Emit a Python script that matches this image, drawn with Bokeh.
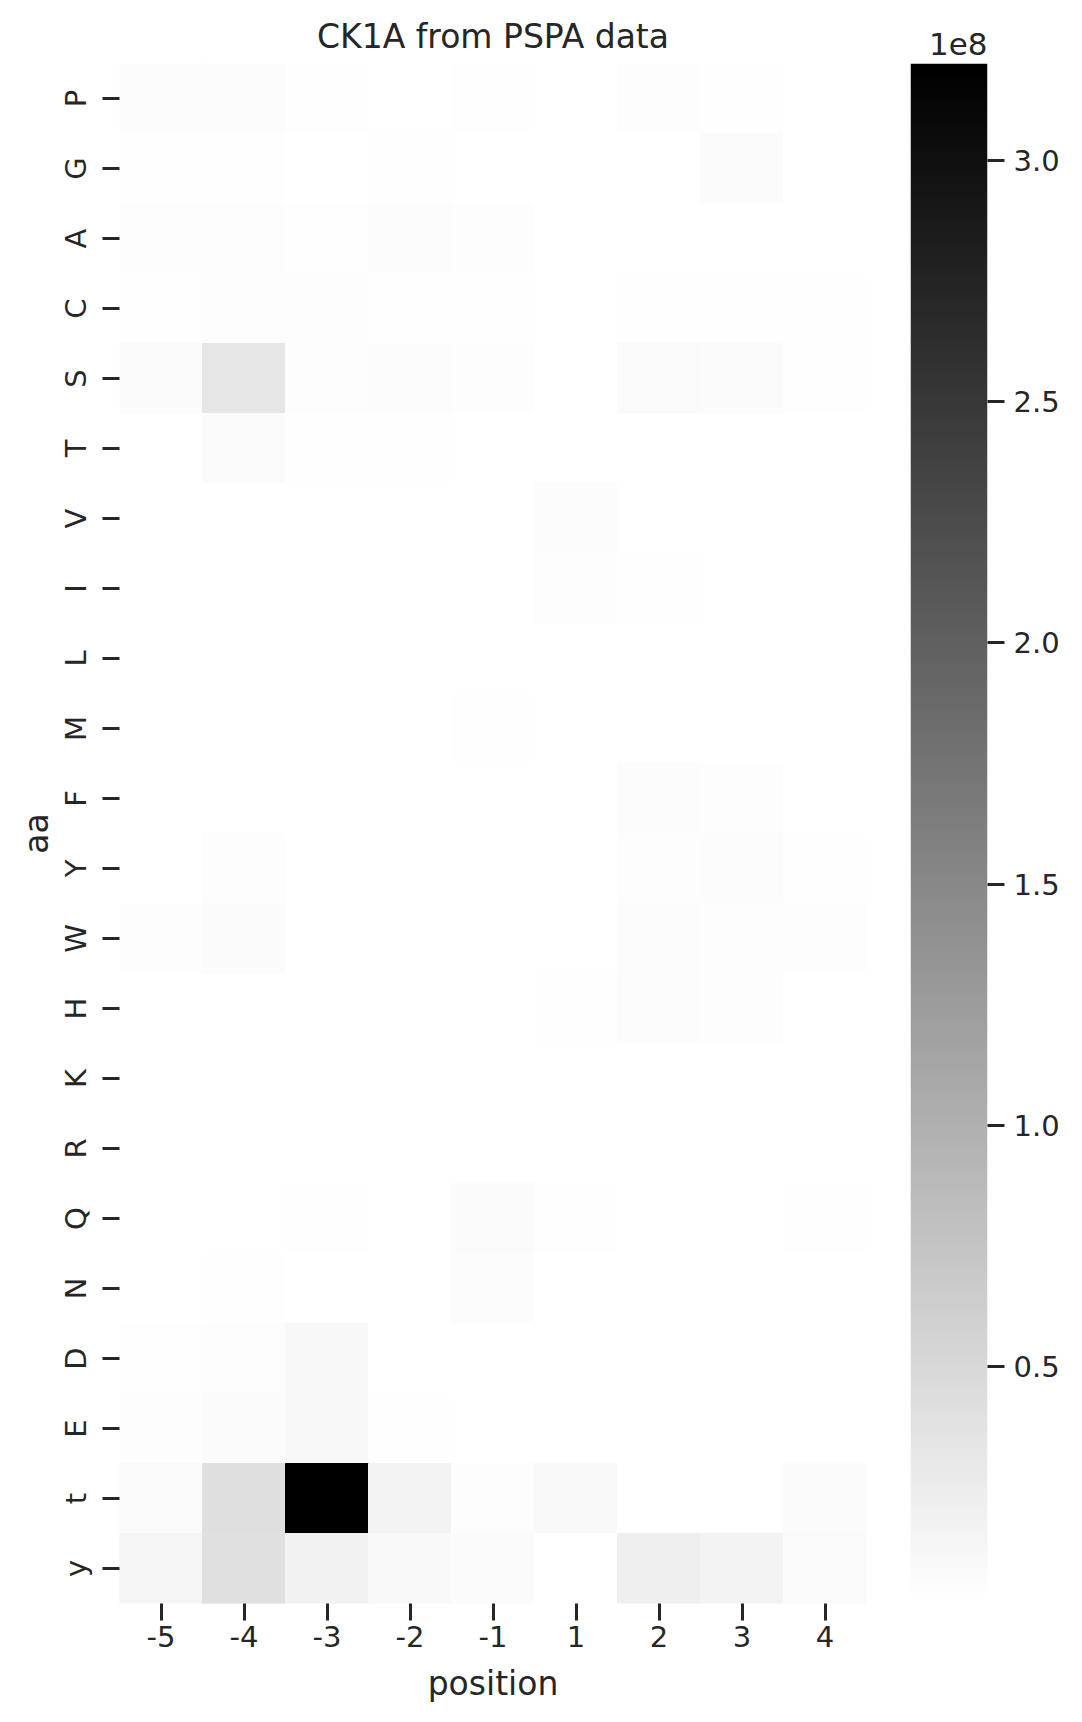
import numpy as np
from bokeh.plotting import figure
from bokeh.models import (ColumnDataSource, LinearColorMapper, FactorRange, Range1d,
                          FixedTicker, CustomJSTickFormatter)
from bokeh.layouts import row
from bokeh.palettes import Greys256
from bokeh.embed import file_html
from bokeh.resources import INLINE

# ---------------- data ----------------
positions = ["-5", "-4", "-3", "-2", "-1", "1", "2", "3", "4"]
amino_acids = ["P", "G", "A", "C", "S", "T", "V", "I", "L", "M", "F",
               "Y", "W", "H", "K", "R", "Q", "N", "D", "E", "t", "y"]

# values per amino acid row (in millions), columns follow `positions`
row_P = [4.8, 4.9, 2.3, 2.2, 2.4, 1.6, 4.7, 2.3, 1.5]
row_G = [2.3, 3.4, 2.2, 2.3, 2.2, 1.2, 1.1, 6.1, 2.0]
row_A = [3.5, 3.6, 2.3, 4.9, 3.6, 2.1, 2.2, 2.0, 2.1]
row_C = [3.4, 4.6, 3.5, 3.3, 2.4, 2.1, 3.3, 3.4, 3.2]
row_S = [6.1, 32.3, 4.7, 4.8, 4.6, 2.2, 8.4, 6.0, 3.3]
row_T = [2.1, 7.2, 2.3, 3.4, 2.2, 2.0, 2.2, 2.1, 1.9]
row_V = [1.3, 1.2, 1.4, 2.2, 1.3, 4.8, 1.7, 1.2, 1.1]
row_I = [1.2, 1.3, 1.2, 1.4, 1.3, 3.5, 3.4, 1.3, 1.2]
row_L = [1.4, 1.2, 1.3, 1.2, 1.5, 1.6, 1.3, 1.2, 1.1]
row_M = [1.1, 1.2, 1.3, 1.2, 2.3, 1.4, 1.2, 1.3, 1.2]
row_F = [1.3, 1.2, 1.4, 1.3, 1.2, 1.4, 4.8, 3.6, 1.6]
row_Y = [1.6, 3.5, 2.2, 1.3, 2.1, 1.2, 4.7, 4.9, 3.4]
row_W = [3.5, 6.0, 1.6, 1.2, 1.3, 1.4, 4.8, 4.2, 4.0]
row_H = [1.2, 1.3, 1.2, 1.4, 1.3, 2.3, 4.9, 4.7, 2.2]
row_K = [1.5, 1.3, 1.4, 1.6, 1.5, 1.7, 1.3, 1.2, 1.4]
row_R = [1.2, 1.3, 1.1, 1.2, 1.3, 1.4, 1.2, 1.1, 1.0]
row_Q = [2.2, 2.1, 2.3, 2.2, 6.1, 2.3, 1.2, 1.7, 2.8]
row_N = [2.2, 2.3, 2.1, 2.2, 4.8, 1.6, 1.2, 1.3, 1.2]
row_D = [3.4, 4.7, 9.8, 1.3, 1.2, 1.3, 1.2, 1.6, 1.4]
row_E = [3.5, 6.1, 9.9, 3.4, 1.7, 1.6, 1.5, 1.6, 1.7]
row_t = [7.3, 41.0, 320.0, 16.0, 3.5, 8.5, 1.1, 1.6, 7.2]
row_y = [13.5, 39.8, 17.3, 8.5, 6.0, 1.0, 21.0, 16.0, 7.3]

UNIT = 1e6
colorbar_ticks = [0.5e8, 1.0e8, 1.5e8, 2.0e8, 2.5e8, 3.0e8]

rows = [row_P, row_G, row_A, row_C, row_S, row_T, row_V, row_I, row_L, row_M, row_F,
        row_Y, row_W, row_H, row_K, row_R, row_Q, row_N, row_D, row_E, row_t, row_y]

xs, ys, vals = [], [], []
for aa, r in zip(amino_acids, rows):
    for pos, v in zip(positions, r):
        xs.append(pos)
        ys.append(aa)
        vals.append(v * UNIT)
src = ColumnDataSource(dict(position=xs, aa=ys, value=vals))

vmin, vmax = min(vals), max(vals)
palette = list(reversed(Greys256))  # white -> black
mapper = LinearColorMapper(palette=palette, low=vmin, high=vmax)

FONT = "DejaVu Sans"
TXT = "#262626"
TICK_FS = "29px"
LABEL_FS = "33px"

# ---------------- heatmap ----------------
p = figure(x_range=FactorRange(factors=positions),
           y_range=FactorRange(factors=list(reversed(amino_acids))),
           frame_width=747, frame_height=1540,
           min_border_left=119, min_border_right=20,
           min_border_top=63, min_border_bottom=100,
           title="CK1A from PSPA data", x_axis_label="position", y_axis_label="aa",
           output_backend="svg", toolbar_location=None)
p.rect(x="position", y="aa", width=1, height=1, source=src,
       fill_color={"field": "value", "transform": mapper},
       line_color={"field": "value", "transform": mapper}, line_width=1)

p.title.text_font = FONT
p.title.text_font_size = LABEL_FS
p.title.text_font_style = "normal"
p.title.text_color = TXT
p.title.align = "center"
p.title.standoff = 16

for ax in (p.xaxis[0], p.yaxis[0]):
    ax.axis_line_color = None
    ax.major_tick_line_color = TXT
    ax.major_tick_line_width = 3
    ax.major_tick_out = 17
    ax.major_tick_in = 0
    ax.minor_tick_line_color = None
    ax.major_label_text_font = FONT
    ax.major_label_text_font_size = TICK_FS
    ax.major_label_text_color = TXT
    ax.axis_label_text_font = FONT
    ax.axis_label_text_font_size = LABEL_FS
    ax.axis_label_text_font_style = "normal"
    ax.axis_label_text_color = TXT

p.yaxis.major_label_orientation = "vertical"
p.xaxis.major_label_standoff = 5
p.yaxis.major_label_standoff = 10
p.xaxis.axis_label_standoff = 14
p.yaxis.axis_label_standoff = 0
p.xgrid.grid_line_color = None
p.ygrid.grid_line_color = None
p.outline_line_color = None

# ---------------- colorbar ----------------
cb = figure(x_range=Range1d(0, 1), y_range=Range1d(vmin, vmax),
            frame_width=77, frame_height=1540,
            min_border_left=24, min_border_right=84,
            min_border_top=63, min_border_bottom=100,
            x_axis_location=None, y_axis_location="right", title="1e8",
            output_backend="svg", toolbar_location=None)
gradient = np.linspace(vmin, vmax, 512).reshape(-1, 1)
cb.image(image=[gradient], x=0, y=vmin, dw=1, dh=vmax - vmin, color_mapper=mapper)
cb.title.text_font = FONT
cb.title.text_font_size = "31px"
cb.title.text_font_style = "normal"
cb.title.text_color = TXT
cb.title.align = "right"
cb.title.standoff = 17

cax = cb.yaxis[0]
cax.ticker = FixedTicker(ticks=colorbar_ticks)
cax.formatter = CustomJSTickFormatter(code="return (tick / 1e8).toFixed(1);")
cax.axis_line_color = None
cax.major_tick_line_color = TXT
cax.major_tick_line_width = 3
cax.major_tick_out = 17
cax.major_tick_in = 0
cax.minor_tick_line_color = None
cax.major_label_text_font = FONT
cax.major_label_text_font_size = TICK_FS
cax.major_label_text_color = TXT
cax.major_label_standoff = 9
cb.xgrid.grid_line_color = None
cb.ygrid.grid_line_color = None
cb.outline_line_color = None

layout = row(p, cb)
open("out.html", "w").write(file_html(layout, INLINE))
